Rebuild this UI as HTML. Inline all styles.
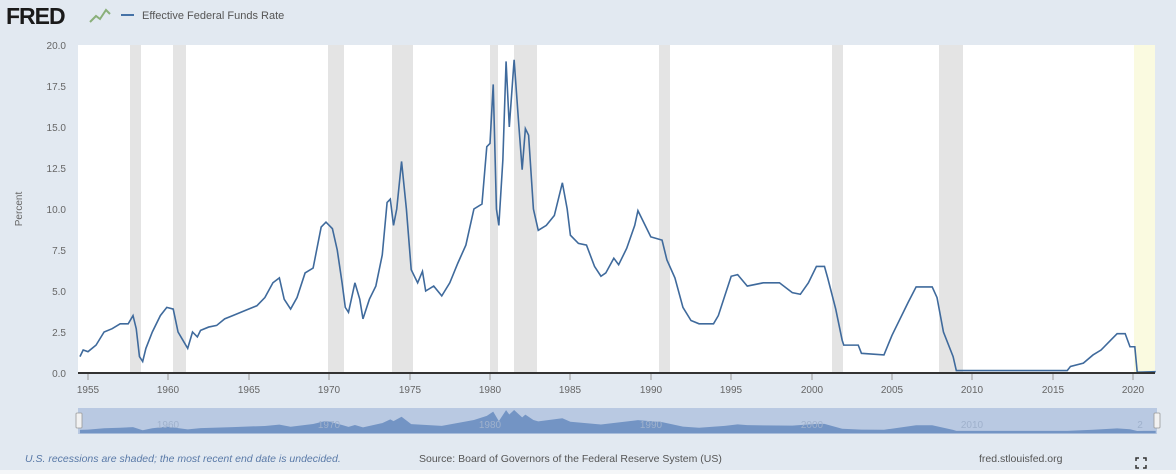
<!DOCTYPE html>
<html><head><meta charset="utf-8"><style>
body{margin:0;width:1176px;height:474px;overflow:hidden;background:#e2e9f1;font-family:"Liberation Sans",sans-serif;}
</style></head><body>
<svg width="1176" height="474" xmlns="http://www.w3.org/2000/svg" style="position:absolute;left:0;top:0">
<rect x="0" y="0" width="1176" height="474" fill="#e2e9f1"/>
<rect x="0" y="470" width="1176" height="4" fill="#f4f6f8"/>
<text x="6" y="24" font-size="23" font-weight="bold" fill="#1a1a1a" font-family="Liberation Sans" letter-spacing="-1">FRED</text>
<polyline points="90,22 96,16 100,19 106,10 110,14" fill="none" stroke="#8ab07a" stroke-width="2"/>
<line x1="121" y1="15" x2="134" y2="15" stroke="#4572a7" stroke-width="2"/>
<text x="142" y="19" font-size="11" fill="#555">Effective Federal Funds Rate</text>
<rect x="78" y="45" width="1077" height="328" fill="#fff"/>
<g fill="#e4e4e4">
<rect x="130" y="45" width="11" height="328"/><rect x="173" y="45" width="13" height="328"/>
<rect x="328" y="45" width="16" height="328"/><rect x="392" y="45" width="21" height="328"/>
<rect x="490" y="45" width="8" height="328"/><rect x="514" y="45" width="23" height="328"/>
<rect x="659" y="45" width="11" height="328"/><rect x="832" y="45" width="11" height="328"/>
<rect x="939" y="45" width="24" height="328"/></g>
<rect x="1134" y="45" width="21" height="328" fill="#fafae0"/>
<g font-size="10" fill="#666" text-anchor="end">
<text x="66" y="49">20.0</text><text x="66" y="90">17.5</text><text x="66" y="131">15.0</text><text x="66" y="172">12.5</text><text x="66" y="213">10.0</text><text x="66" y="254">7.5</text><text x="66" y="295">5.0</text><text x="66" y="336">2.5</text><text x="66" y="377">0.0</text></g>
<text x="22" y="209" font-size="10" fill="#666" transform="rotate(-90 22 209)" text-anchor="middle">Percent</text>
<polyline id="d" fill="none" stroke="#3f6a9c" stroke-width="1.6" vector-effect="non-scaling-stroke" transform="matrix(16.08,0,0,-16.4,-31348.4,373)" points="1954.5,1.0 1954.7,1.4 1955,1.3 1955.5,1.7 1956,2.5 1956.5,2.7 1957,3.0 1957.5,3.0 1957.8,3.5 1958.0,2.7 1958.2,1.0 1958.4,0.7 1958.6,1.5 1959,2.5 1959.5,3.5 1959.9,4.0 1960.3,3.9 1960.6,2.5 1960.9,2.0 1961.2,1.5 1961.5,2.5 1961.8,2.2 1962,2.6 1962.5,2.8 1963,2.9 1963.5,3.3 1964,3.5 1965,3.9 1965.5,4.1 1966,4.6 1966.5,5.5 1966.9,5.8 1967.2,4.5 1967.6,3.9 1968,4.6 1968.5,6.1 1969,6.4 1969.5,8.9 1969.8,9.2 1970.2,8.8 1970.5,7.5 1970.8,5.5 1971.0,4.0 1971.2,3.7 1971.6,5.5 1971.9,4.5 1972.1,3.3 1972.5,4.5 1972.9,5.3 1973.3,7.2 1973.6,10.4 1973.8,10.6 1974.0,9.0 1974.2,10.0 1974.5,12.9 1974.8,10.0 1975.1,6.3 1975.5,5.5 1975.8,6.2 1976,5.0 1976.5,5.3 1977,4.7 1977.5,5.5 1978,6.7 1978.5,7.8 1979,10.0 1979.5,10.3 1979.8,13.8 1980.0,14.0 1980.2,17.6 1980.4,10.0 1980.55,9.0 1980.8,13.0 1981.0,19.0 1981.2,15.0 1981.5,19.1 1981.8,15.0 1982.0,12.4 1982.2,14.9 1982.4,14.5 1982.7,10.0 1983,8.7 1983.5,9.0 1984,9.6 1984.5,11.6 1984.8,10.0 1985,8.4 1985.5,7.9 1986,7.8 1986.5,6.5 1986.9,5.9 1987.2,6.1 1987.7,7.0 1988,6.6 1988.5,7.6 1989,9.0 1989.2,9.9 1989.6,9.1 1990,8.3 1990.7,8.1 1991,6.9 1991.5,5.8 1992,4.0 1992.5,3.2 1993,3.0 1993.9,3.0 1994.2,3.5 1994.6,4.7 1995,5.9 1995.4,6.0 1996,5.3 1997,5.5 1998,5.5 1998.8,4.9 1999.3,4.8 1999.8,5.5 2000.3,6.5 2000.8,6.5 2001.0,5.8 2001.5,3.9 2001.9,2.0 2002,1.7 2002.9,1.7 2003.1,1.2 2004.5,1.1 2005,2.3 2006,4.3 2006.5,5.25 2007.5,5.25 2007.8,4.6 2008.2,2.5 2008.8,1.0 2009,0.15 2015.9,0.15 2016.1,0.4 2016.9,0.6 2017.5,1.1 2018,1.4 2018.6,2.0 2019.0,2.4 2019.5,2.4 2019.8,1.6 2020.1,1.6 2020.25,0.05 2021.4,0.08"/>
<line x1="78" y1="373" x2="1155" y2="373" stroke="#333" stroke-width="2"/>
<g stroke="#999" stroke-width="1">
<line x1="88" y1="374" x2="88" y2="380"/><line x1="168" y1="374" x2="168" y2="380"/><line x1="249" y1="374" x2="249" y2="380"/><line x1="329" y1="374" x2="329" y2="380"/><line x1="410" y1="374" x2="410" y2="380"/><line x1="490" y1="374" x2="490" y2="380"/><line x1="570" y1="374" x2="570" y2="380"/><line x1="651" y1="374" x2="651" y2="380"/><line x1="731" y1="374" x2="731" y2="380"/><line x1="812" y1="374" x2="812" y2="380"/><line x1="892" y1="374" x2="892" y2="380"/><line x1="972" y1="374" x2="972" y2="380"/><line x1="1053" y1="374" x2="1053" y2="380"/><line x1="1133" y1="374" x2="1133" y2="380"/></g>
<g font-size="10" fill="#666" text-anchor="middle">
<text x="88" y="393">1955</text><text x="168" y="393">1960</text><text x="249" y="393">1965</text><text x="329" y="393">1970</text><text x="410" y="393">1975</text><text x="490" y="393">1980</text><text x="570" y="393">1985</text><text x="651" y="393">1990</text><text x="731" y="393">1995</text><text x="812" y="393">2000</text><text x="892" y="393">2005</text><text x="972" y="393">2010</text><text x="1053" y="393">2015</text><text x="1133" y="393">2020</text></g>
<rect x="78" y="408" width="1079" height="26" fill="#b9c9e2"/>
<polygon fill="#7394c4" transform="matrix(16.08,0,0,-1.1,-31348.4,431)" points="1954.5,-2 1954.5,1.0 1955,1.3 1956,2.5 1957,3.0 1957.8,3.5 1958.4,0.7 1959,2.5 1959.9,4.0 1960.9,2.0 1961.2,1.5 1962,2.6 1964,3.5 1966,4.6 1966.9,5.8 1967.6,3.9 1969,6.4 1969.8,9.2 1970.8,5.5 1971.2,3.7 1971.6,5.5 1972.1,3.3 1973.3,7.2 1973.8,10.6 1974.0,9.0 1974.5,12.9 1975.1,6.3 1977,4.7 1979,10.0 1979.8,13.8 1980.2,17.6 1980.55,9.0 1981.0,19.0 1981.2,15.0 1981.5,19.1 1982.0,12.4 1982.2,14.9 1982.7,10.0 1983,8.7 1984.5,11.6 1985,8.4 1986.9,5.9 1989.2,9.9 1990.7,8.1 1992,4.0 1993,3.0 1994.6,4.7 1995.4,6.0 1996,5.3 1998.8,4.9 2000.3,6.5 2000.8,6.5 2001.9,2.0 2003.1,1.2 2004.5,1.1 2006.5,5.25 2007.5,5.25 2008.8,1.0 2009,0.15 2015.9,0.15 2017.5,1.1 2019.0,2.4 2019.8,1.6 2020.25,0.05 2021.4,0.08 2021.4,-2"/>
<g font-size="10" fill="#9fb1cc" text-anchor="middle"><text x="168" y="428">1960</text><text x="329" y="428">1970</text><text x="490" y="428">1980</text><text x="651" y="428">1990</text><text x="812" y="428">2000</text><text x="972" y="428">2010</text><text x="1140" y="428">2</text></g>
<rect x="76" y="413" width="6" height="15" fill="#f2f2f2" stroke="#999" stroke-width="0.8" rx="1"/>
<rect x="1154" y="413" width="6" height="15" fill="#f2f2f2" stroke="#999" stroke-width="0.8" rx="1"/>
<text x="25" y="462" font-size="10.5" font-style="italic" fill="#5a7aa8">U.S. recessions are shaded; the most recent end date is undecided.</text>
<text x="419" y="462" font-size="10.5" fill="#555">Source: Board of Governors of the Federal Reserve System (US)</text>
<text x="979" y="462" font-size="10.5" fill="#555">fred.stlouisfed.org</text>
<g stroke="#333" stroke-width="1.5" fill="none"><path d="M1136 461v-3h3M1143 458h3v3M1136 465v3h3M1143 468h3v-3"/></g>
</svg>
</body></html>
